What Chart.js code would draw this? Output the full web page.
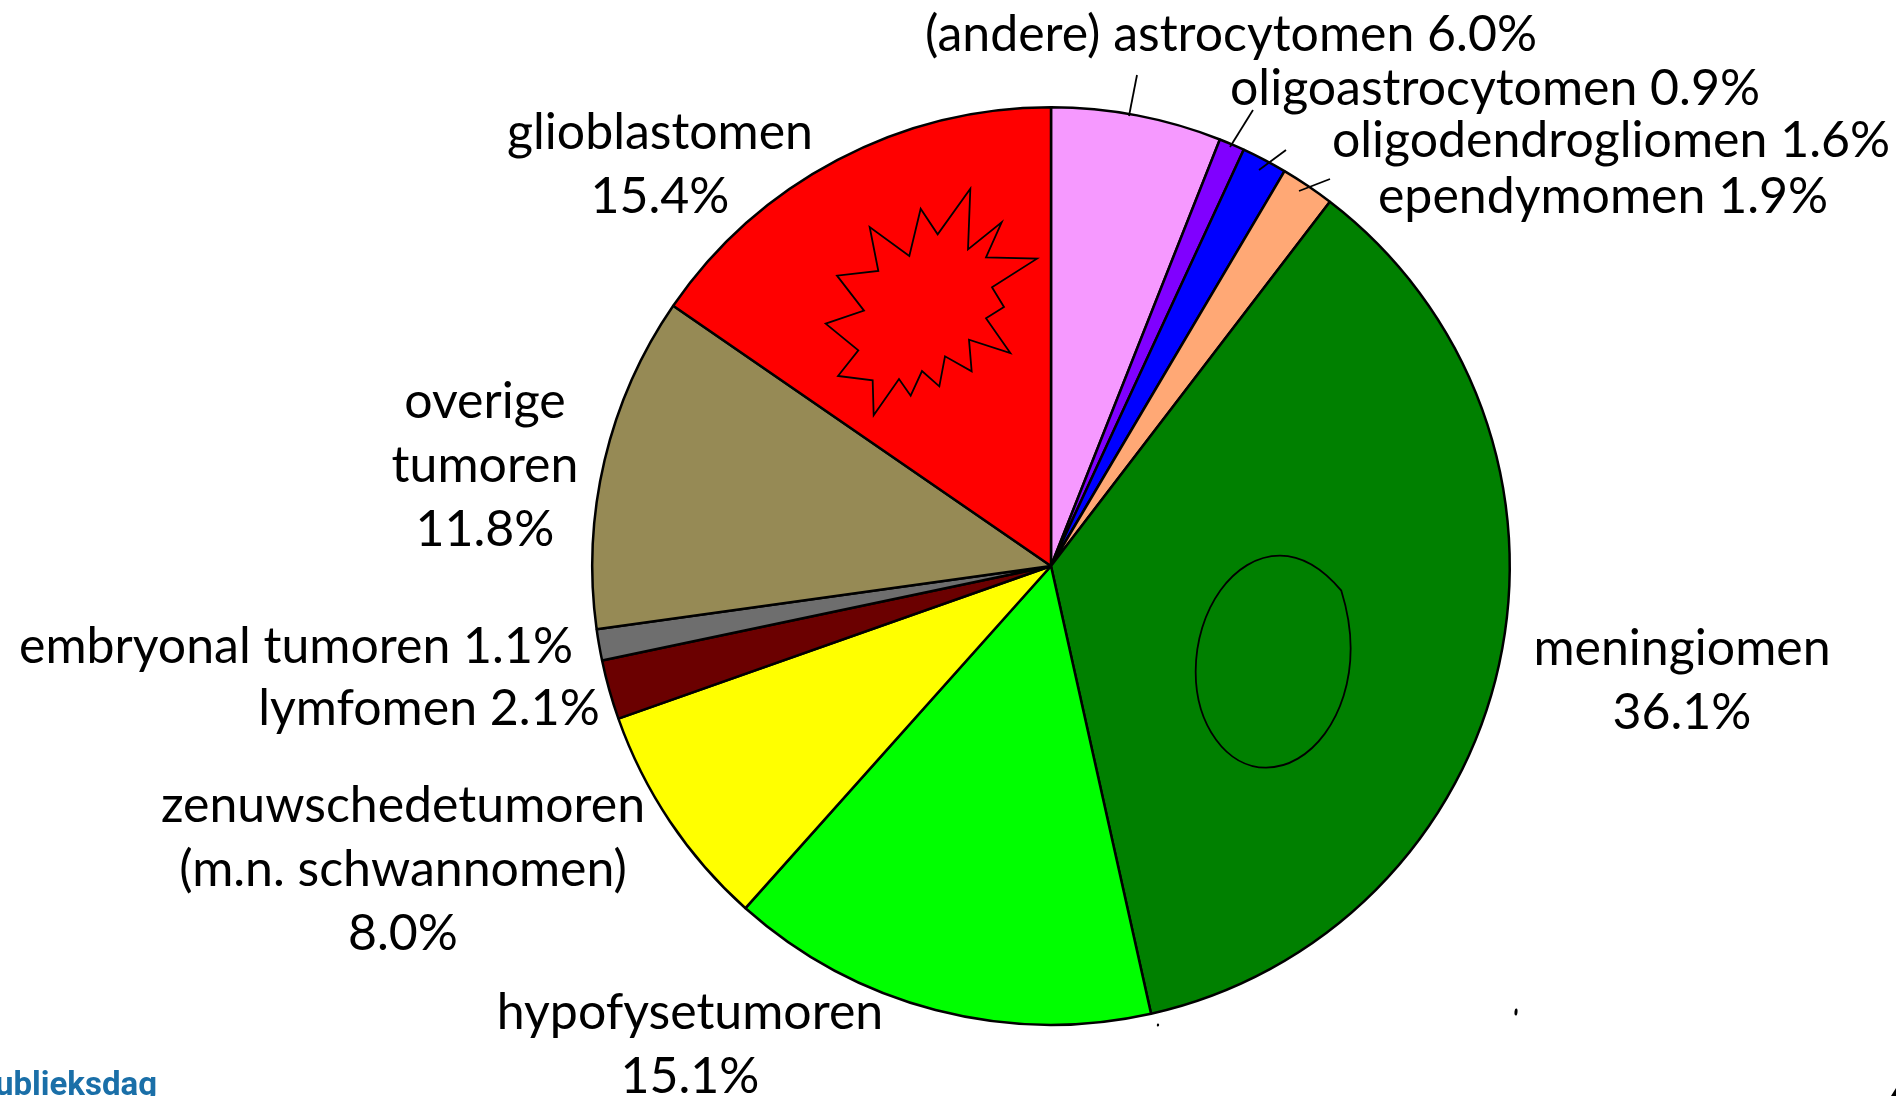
<!DOCTYPE html>
<html>
<head>
<meta charset="utf-8">
<style>html,body{margin:0;padding:0;background:#fff;overflow:hidden}canvas{display:block}</style>
<script src="https://cdn.jsdelivr.net/npm/chart.js@4"></script>
</head>
<body>
<canvas id="c" width="1896" height="1096"></canvas>
<script>
const categories = ["(andere) astrocytomen","oligoastrocytomen","oligodendrogliomen","ependymomen","meningiomen","hypofysetumoren","zenuwschedetumoren\n(m.n. schwannomen)","lymfomen","embryonal tumoren","overige\ntumoren","glioblastomen"];
const values = [6.0,0.9,1.6,1.9,36.1,15.1,8.0,2.1,1.1,11.8,15.4];
const colors = ["#F699FF","#8000FF","#0000FF","#FFA875","#008000","#00FF00","#FFFF00","#6B0000","#6E6E6E","#968A55","#FF0000"];
// label placement: centre x, first baseline y, value on same line?
const labelX = [1231,1495,1611,1603,1682,690,403,429,296,485,660];
const labelY = [51,105,157,213,665,1029,822,725,663,418,149];
const labelInline = [true,true,true,true,false,false,false,true,true,false,false];
const lineGap = 64;
const labelFont = '50px Lato, Carlito, sans-serif';
const leaders = [[1137,75,1129,116],[1253,110,1230,147],[1286,150,1259,170],[1330,179,1299,191]];
const starPts = [[511,116],[504,298],[605,217],[558,322],[711,326],[576,412],[612,471],[558,505],[631,609],[507,569],[515,664],[435,619],[418,709],[366,663],[332,737],[297,687],[221,796],[218,691],[114,678],[175,601],[77,521],[192,482],[111,377],[235,363],[209,231],[328,318],[362,176],[413,253]];

const overlay = {
  id:'overlay',
  afterDatasetsDraw(chart){
    const ctx = chart.ctx;
    ctx.save();
    ctx.strokeStyle='#000';
    // star in the glioblastoma slice
    ctx.lineWidth=1.8; ctx.lineJoin='miter';
    ctx.beginPath();
    starPts.forEach((p,i)=>{const x=800+p[0]/3,y=150+p[1]/3; i?ctx.lineTo(x,y):ctx.moveTo(x,y);});
    ctx.closePath(); ctx.stroke();
    // outline in the meningioma slice
    const X=v=>1150+v/3, Y=v=>530+v/3;
    ctx.beginPath();
    ctx.moveTo(X(574),Y(182));
    ctx.bezierCurveTo(X(592),Y(240),X(602),Y(295),X(602),Y(355));
    ctx.bezierCurveTo(X(602),Y(560),X(480),Y(713),X(348),Y(713));
    ctx.bezierCurveTo(X(230),Y(713),X(137),Y(585),X(137),Y(425));
    ctx.bezierCurveTo(X(137),Y(240),X(250),Y(77),X(390),Y(77));
    ctx.bezierCurveTo(X(470),Y(77),X(530),Y(130),X(574),Y(182));
    ctx.closePath(); ctx.stroke();
    // leaders
    ctx.lineWidth=1.8;
    leaders.forEach(l=>{ctx.beginPath();ctx.moveTo(l[0],l[1]);ctx.lineTo(l[2],l[3]);ctx.stroke();});
    // specks
    ctx.fillStyle='#000';
    [[1516,1012,1.5,3.5],[1158,1025,1.2,1.5]].forEach(s=>{ctx.beginPath();ctx.ellipse(s[0],s[1],s[2],s[3],0.1,0,7);ctx.fill();});
    ctx.beginPath();ctx.moveTo(1891,1096);ctx.lineTo(1896,1088);ctx.lineTo(1896,1096);ctx.closePath();ctx.fill();
    // labels
    ctx.fillStyle='#000'; ctx.textAlign='center'; ctx.textBaseline='alphabetic'; ctx.font=labelFont;
    categories.forEach((name,i)=>{
      const val=values[i].toFixed(1)+'%';
      const parts=name.split('\n');
      const lines=labelInline[i]?[name+' '+val]:[...parts,val];
      lines.forEach((t,k)=>ctx.fillText(t,labelX[i],labelY[i]+k*lineGap));
    });
    // cut-off footer text
    ctx.fillStyle='#1A6FA8'; ctx.textAlign='right'; ctx.font='bold 33px Roboto, sans-serif';
    ctx.fillText('Publieksdag',157,1095);
    ctx.restore();
  }
};
new Chart(document.getElementById('c'),{
  type:'pie',
  data:{labels:categories,datasets:[{data:values,backgroundColor:colors,borderColor:'#000',borderWidth:2.5}]},
  options:{
    responsive:false,animation:false,
    layout:{padding:{left:591,right:385,top:106,bottom:70}},
    plugins:{legend:{display:false},tooltip:{enabled:false}}
  },
  plugins:[overlay]
});
</script>
</body>
</html>
